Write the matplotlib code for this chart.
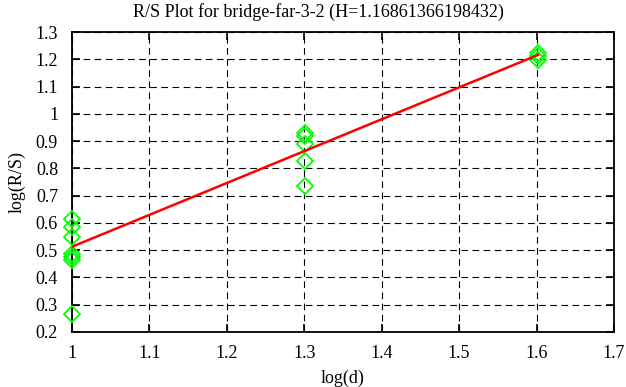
import matplotlib
matplotlib.use("Agg")
import matplotlib.pyplot as plt
import numpy as np

# Data
x_values = [1.0, 1.0, 1.0, 1.0, 1.0, 1.0, 1.0,
            1.301, 1.301, 1.301, 1.301, 1.301,
            1.602, 1.602, 1.602]
y_values = [0.615, 0.585, 0.55, 0.485, 0.475, 0.465, 0.265,
            0.928, 0.918, 0.89, 0.826, 0.737,
            1.222, 1.212, 1.198]
H = 1.16861366198432
intercept = -0.656
fit_x = [1.0, 1.602]
title = "R/S Plot for bridge-far-3-2 (H=1.16861366198432)"
x_ticks = [1, 1.1, 1.2, 1.3, 1.4, 1.5, 1.6, 1.7]
x_tick_labels = ["1", "1.1", "1.2", "1.3", "1.4", "1.5", "1.6", "1.7"]
y_ticks = [0.2, 0.3, 0.4, 0.5, 0.6, 0.7, 0.8, 0.9, 1.0, 1.1, 1.2, 1.3]
y_tick_labels = ["0.2", "0.3", "0.4", "0.5", "0.6", "0.7", "0.8", "0.9", "1", "1.1", "1.2", "1.3"]

plt.rcParams['font.family'] = ['Liberation Serif', 'DejaVu Serif']

fig = plt.figure(figsize=(6.26, 3.87), dpi=100)
ax = fig.add_axes([72/626, 1 - 332/387, (614 - 72)/626, 300/387])

ax.plot(x_values, y_values, linestyle='none', marker='D', markersize=7.8,
        markerfacecolor='none', markeredgecolor='#00ff00', markeredgewidth=1.3,
        zorder=3, clip_on=False)
fx = np.array(fit_x)
ax.plot(fx, H * fx + intercept, color='#ff0000', linewidth=1.8, zorder=4)

ax.set_xlim(1, 1.7)
ax.set_ylim(0.2, 1.3)
ax.set_xticks(x_ticks)
ax.set_xticklabels(x_tick_labels)
ax.set_yticks(y_ticks)
ax.set_yticklabels(y_tick_labels)
ax.tick_params(direction='in', length=6, width=1.2, top=True, right=True,
               labelsize=13, colors='black')
ax.tick_params(axis='x', pad=9)
ax.tick_params(axis='y', pad=10)
ax.grid(True, color='black', linestyle=(0, (6, 4)), linewidth=0.8)
for s in ax.spines.values():
    s.set_linewidth(1.3)

fig.text(318/626, 1 - 12/387, title, fontsize=13, ha='center', va='center')
ax.set_xlabel("log(d)", fontsize=13, labelpad=6)
ax.set_ylabel("log(R/S)", fontsize=13, labelpad=7)

fig.savefig("out.png", dpi=100)
